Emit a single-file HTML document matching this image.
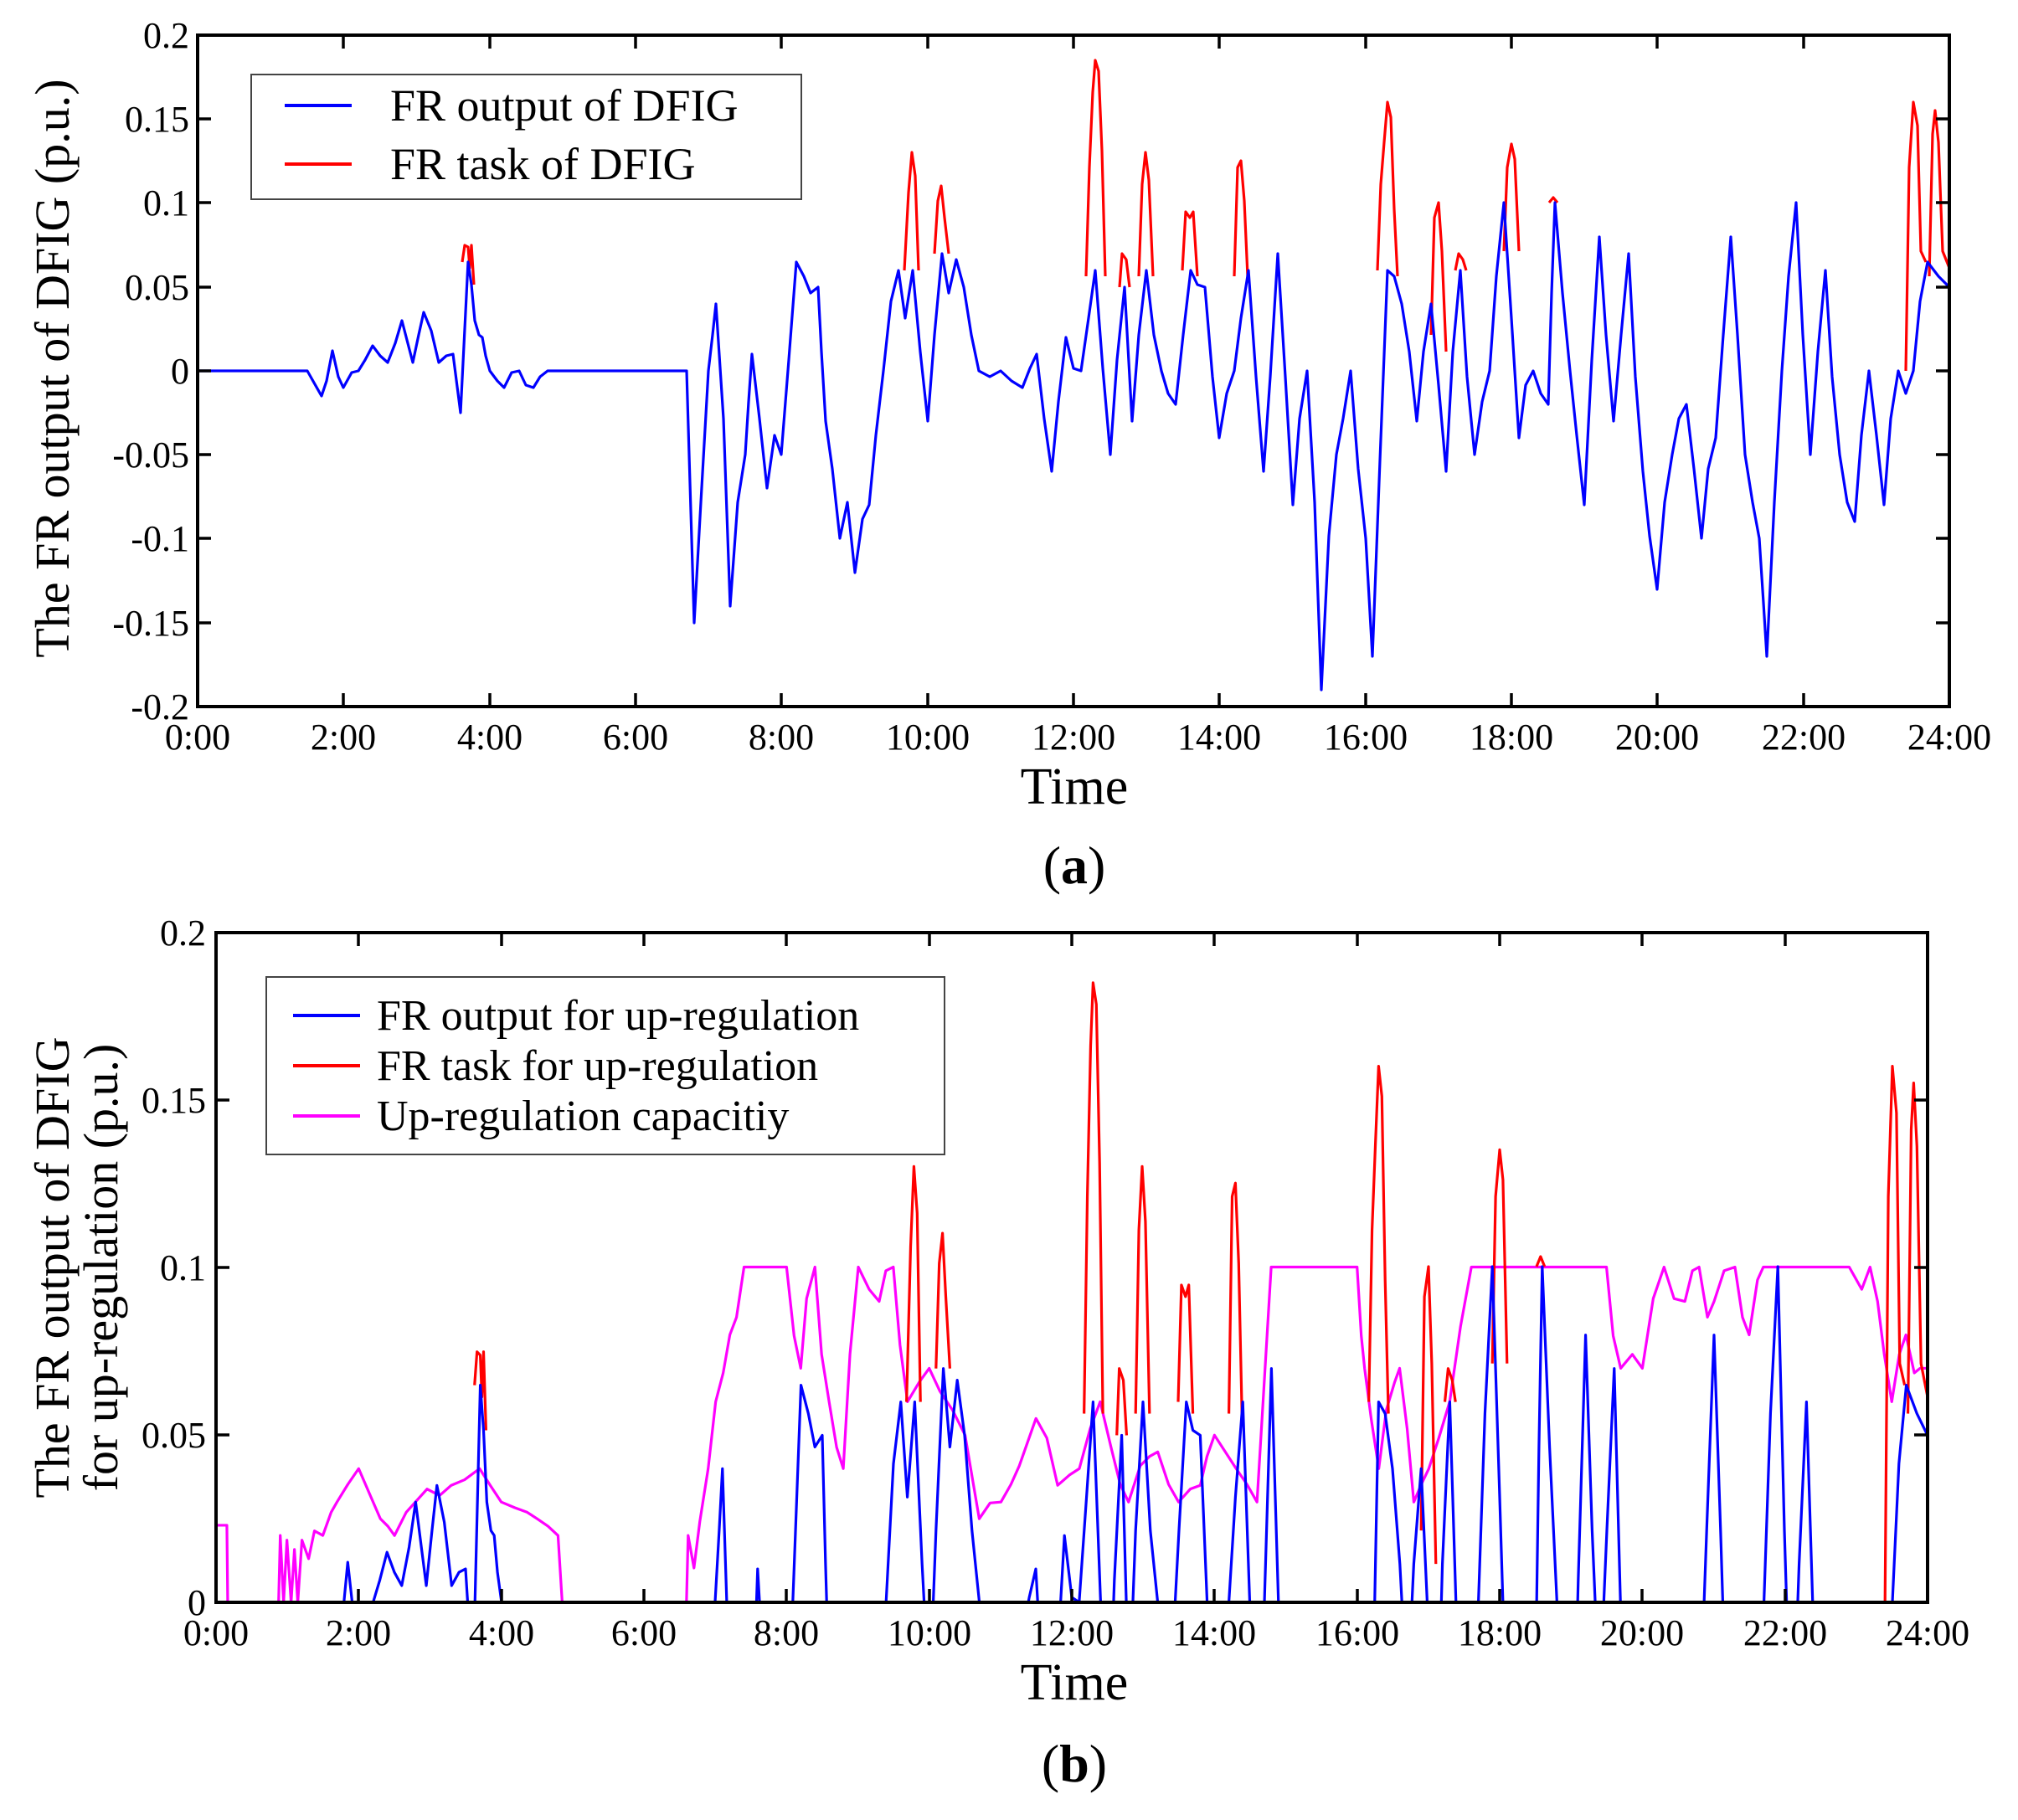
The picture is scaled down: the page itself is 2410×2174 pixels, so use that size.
<!DOCTYPE html>
<html><head><meta charset="utf-8"><style>
html,body{margin:0;padding:0;background:#fff;overflow:hidden}
svg{display:block}
text{font-family:"Liberation Serif",serif;fill:#000}
</style></head><body>
<svg width="2410" height="2174" xmlns="http://www.w3.org/2000/svg" xmlns:xlink="http://www.w3.org/1999/xlink">
<defs>
<clipPath id="cb"><rect x="258" y="1108" width="2044" height="806"/></clipPath>
<g id="red">
<path fill="none" stroke="#ff0000" stroke-width="3.2" stroke-linejoin="round" vector-effect="non-scaling-stroke" d="M552 313 L555 293 L559 295 L561 320 L563 293 L566 340 M1080 323 L1085 230 L1089 182 L1093 210 L1097 323 M1116 303 L1120 240 L1124 222 L1128 260 L1133 303 M1297 330 L1301 200 L1305 110 L1308 72 L1312 85 L1316 180 L1320 330 M1337 343 L1340 303 L1345 310 L1349 343 M1360 330 L1364 220 L1368 182 L1372 215 L1377 330 M1412 323 L1416 253 L1421 260 L1425 253 L1430 330 M1474 330 L1478 200 L1482 192 L1486 240 L1490 330 M1645 323 L1649 220 L1653 170 L1657 122 L1661 140 L1665 250 L1669 330 M1709 400 L1713 260 L1718 242 L1722 300 L1727 420 M1738 323 L1742 303 L1747 310 L1751 323 M1796 300 L1800 200 L1805 172 L1809 190 L1814 300 M1850 242 L1855 236 L1860 242 M2276 443 L2280 200 L2285 122 L2290 150 L2294 300 L2300 313 M2304 330 L2308 160 L2311 132 L2315 170 L2320 300 L2328 320"/>
</g>
<path id="blue" fill="none" stroke="#0000ff" stroke-width="3.2" stroke-linejoin="round" vector-effect="non-scaling-stroke" d="M236 443 L367 443 L384 473 L390 455 L397 419 L404 450 L410 463 L420 445 L428 443 L436 430 L445 413 L454 425 L463 433 L472 410 L480 383 L487 410 L493 433 L500 400 L506 373 L515 395 L524 433 L533 425 L541 423 L550 493 L559 313 L563 340 L567 383 L572 400 L576 403 L580 425 L585 443 L594 455 L602 463 L611 445 L620 443 L628 460 L637 463 L645 450 L654 443 L820 443 L829 744 L837 600 L846 443 L851 400 L855 363 L864 500 L872 724 L881 600 L890 543 L894 480 L898 423 L907 500 L916 583 L925 520 L933 543 L942 430 L951 313 L960 330 L968 350 L977 343 L981 420 L986 503 L994 560 L1003 643 L1012 600 L1021 684 L1030 620 L1038 603 L1046 520 L1055 443 L1064 360 L1073 323 L1081 380 L1090 323 L1099 420 L1108 503 L1116 400 L1125 303 L1133 350 L1142 310 L1151 343 L1160 400 L1169 443 L1182 450 L1195 443 L1208 455 L1221 463 L1230 440 L1238 423 L1247 500 L1256 563 L1264 480 L1273 403 L1282 440 L1291 443 L1300 380 L1308 323 L1317 440 L1326 543 L1334 430 L1343 343 L1352 503 L1360 400 L1369 323 L1378 400 L1387 443 L1395 470 L1404 483 L1413 400 L1422 323 L1430 340 L1439 343 L1448 450 L1456 523 L1465 470 L1474 443 L1482 380 L1491 323 L1500 450 L1509 563 L1517 450 L1526 303 L1535 450 L1544 603 L1552 500 L1561 443 L1570 600 L1578 824 L1587 640 L1596 543 L1604 500 L1613 443 L1622 560 L1631 643 L1639 784 L1648 550 L1657 323 L1665 330 L1674 363 L1683 420 L1692 503 L1700 420 L1709 363 L1718 460 L1727 563 L1735 420 L1744 323 L1752 450 L1761 543 L1770 480 L1779 443 L1787 330 L1796 242 L1805 380 L1814 523 L1822 460 L1831 443 L1840 470 L1849 483 L1853 350 L1857 242 L1866 350 L1875 443 L1883 520 L1892 603 L1901 430 L1910 283 L1918 400 L1927 503 L1936 400 L1945 303 L1953 450 L1962 563 L1970 640 L1979 704 L1988 600 L1997 543 L2005 500 L2014 483 L2023 560 L2032 643 L2040 560 L2049 523 L2058 400 L2067 283 L2075 400 L2084 543 L2093 600 L2101 643 L2106 720 L2110 784 L2119 600 L2128 443 L2136 330 L2145 242 L2153 400 L2162 543 L2171 420 L2180 323 L2188 450 L2197 543 L2206 600 L2215 623 L2223 520 L2232 443 L2241 520 L2250 603 L2258 500 L2267 443 L2276 470 L2285 443 L2293 360 L2302 313 L2315 330 L2328 343"/>
</defs>
<rect width="2410" height="2174" fill="#fff"/>

<!-- TOP PLOT -->
<use xlink:href="#red"/>
<use xlink:href="#blue"/>
<rect x="236" y="42" width="2092" height="802" fill="none" stroke="#000" stroke-width="4"/>
<path stroke="#000" stroke-width="3.5" fill="none" d="M236 744h16M236 643h16M236 543h16M236 443h16M236 343h16M236 242h16M236 142h16M2328 744h-16M2328 643h-16M2328 543h-16M2328 443h-16M2328 343h-16M2328 242h-16M2328 142h-16
M410 844v-16M585 844v-16M759 844v-16M933 844v-16M1108 844v-16M1282 844v-16M1456 844v-16M1631 844v-16M1805 844v-16M1979 844v-16M2154 844v-16
M410 42v16M585 42v16M759 42v16M933 42v16M1108 42v16M1282 42v16M1456 42v16M1631 42v16M1805 42v16M1979 42v16M2154 42v16"/>
<g font-size="44" text-anchor="end">
<text x="226" y="57">0.2</text><text x="226" y="157">0.15</text><text x="226" y="257">0.1</text><text x="226" y="358">0.05</text><text x="226" y="458">0</text><text x="226" y="558">-0.05</text><text x="226" y="658">-0.1</text><text x="226" y="759">-0.15</text><text x="226" y="859">-0.2</text>
</g>
<g font-size="44" text-anchor="middle">
<text x="236" y="895">0:00</text><text x="410" y="895">2:00</text><text x="585" y="895">4:00</text><text x="759" y="895">6:00</text><text x="933" y="895">8:00</text><text x="1108" y="895">10:00</text><text x="1282" y="895">12:00</text><text x="1456" y="895">14:00</text><text x="1631" y="895">16:00</text><text x="1805" y="895">18:00</text><text x="1979" y="895">20:00</text><text x="2154" y="895">22:00</text><text x="2328" y="895">24:00</text>
</g>
<text x="1283" y="960" font-size="62" text-anchor="middle">Time</text>
<text x="1283" y="1055" font-size="64" text-anchor="middle">(<tspan font-weight="bold">a</tspan>)</text>
<text transform="translate(82,440) rotate(-90)" font-size="58" text-anchor="middle">The FR output of DFIG (p.u.)</text>
<rect x="300" y="89" width="657" height="149" fill="#fff" stroke="#444" stroke-width="2"/>
<line x1="340" y1="126" x2="420" y2="126" stroke="#0000ff" stroke-width="4"/>
<line x1="340" y1="196" x2="420" y2="196" stroke="#ff0000" stroke-width="4"/>
<text x="466" y="144" font-size="54">FR output of DFIG</text>
<text x="466" y="214" font-size="54">FR task of DFIG</text>

<!-- BOTTOM PLOT -->
<g transform="matrix(0.99614 0 0 1.1096 6.97 -113.2)">
<path fill="none" stroke="#ff00ff" stroke-width="3.2" stroke-linejoin="round" vector-effect="non-scaling-stroke" d="M252 1744 L265 1744 L266 1827 L327 1827 L329 1755 L333 1827 L337 1760 L342 1827 L346 1770 L350 1827 L355 1760 L363 1780 L370 1750 L380 1755 L390 1730 L397 1719 L410 1700 L423 1683 L436 1710 L449 1737 L458 1745 L466 1755 L480 1730 L491 1719 L505 1705 L520 1712 L534 1701 L550 1695 L568 1683 L580 1700 L594 1719 L610 1725 L625 1730 L637 1737 L650 1745 L662 1755 L667 1827 L816 1827 L818 1755 L825 1790 L832 1740 L842 1683 L851 1611 L860 1580 L868 1539 L876 1520 L885 1466 L936 1466 L945 1540 L953 1575 L960 1500 L970 1466 L978 1560 L987 1611 L996 1660 L1004 1683 L1012 1560 L1022 1466 L1035 1490 L1047 1503 L1055 1470 L1064 1466 L1072 1550 L1081 1611 L1095 1590 L1107 1575 L1120 1600 L1135 1620 L1150 1647 L1160 1700 L1167 1737 L1180 1720 L1193 1719 L1205 1700 L1215 1680 L1235 1629 L1248 1650 L1261 1701 L1275 1690 L1287 1683 L1300 1640 L1312 1611 L1325 1660 L1336 1700 L1346 1719 L1360 1680 L1371 1670 L1381 1665 L1394 1700 L1406 1719 L1420 1705 L1432 1701 L1440 1670 L1449 1647 L1462 1665 L1475 1683 L1488 1700 L1500 1719 L1508 1600 L1517 1466 L1620 1466 L1625 1540 L1629 1575 L1637 1630 L1646 1683 L1655 1620 L1665 1590 L1671 1575 L1680 1640 L1688 1719 L1697 1700 L1706 1683 L1718 1650 L1731 1611 L1744 1530 L1757 1466 L1919 1466 L1927 1540 L1936 1575 L1950 1560 L1962 1575 L1975 1500 L1988 1466 L2000 1500 L2013 1503 L2022 1470 L2030 1466 L2040 1520 L2048 1503 L2060 1470 L2073 1466 L2082 1520 L2090 1539 L2100 1480 L2107 1466 L2210 1466 L2225 1490 L2235 1466 L2244 1503 L2252 1560 L2261 1611 L2270 1560 L2278 1539 L2288 1580 L2295 1575 L2304 1575"/>
</g>
<g clip-path="url(#cb)">
<g transform="matrix(0.97706 0 0 1.995 27.4 1030.2)">
<use xlink:href="#red"/>
<use xlink:href="#blue"/>
</g>
</g>
<rect x="258" y="1114" width="2044" height="800" fill="none" stroke="#000" stroke-width="4"/>
<path stroke="#000" stroke-width="3.5" fill="none" d="M258 1714h16M258 1514h16M258 1314h16M2302 1714h-16M2302 1514h-16M2302 1314h-16
M428 1914v-16M599 1914v-16M769 1914v-16M939 1914v-16M1110 1914v-16M1280 1914v-16M1450 1914v-16M1621 1914v-16M1791 1914v-16M1961 1914v-16M2132 1914v-16
M428 1114v16M599 1114v16M769 1114v16M939 1114v16M1110 1114v16M1280 1114v16M1450 1114v16M1621 1114v16M1791 1114v16M1961 1114v16M2132 1114v16"/>
<g font-size="44" text-anchor="end">
<text x="246" y="1129">0.2</text><text x="246" y="1329">0.15</text><text x="246" y="1529">0.1</text><text x="246" y="1729">0.05</text><text x="246" y="1929">0</text>
</g>
<g font-size="44" text-anchor="middle">
<text x="258" y="1965">0:00</text><text x="428" y="1965">2:00</text><text x="599" y="1965">4:00</text><text x="769" y="1965">6:00</text><text x="939" y="1965">8:00</text><text x="1110" y="1965">10:00</text><text x="1280" y="1965">12:00</text><text x="1450" y="1965">14:00</text><text x="1621" y="1965">16:00</text><text x="1791" y="1965">18:00</text><text x="1961" y="1965">20:00</text><text x="2132" y="1965">22:00</text><text x="2302" y="1965">24:00</text>
</g>
<text x="1283" y="2030" font-size="62" text-anchor="middle">Time</text>
<text x="1283" y="2128" font-size="64" text-anchor="middle">(<tspan font-weight="bold">b</tspan>)</text>
<text transform="translate(82,1514) rotate(-90)" font-size="58" text-anchor="middle">The FR output of DFIG</text>
<text transform="translate(140,1514) rotate(-90)" font-size="58" text-anchor="middle">for up-regulation (p.u.)</text>
<rect x="318" y="1167" width="810" height="212" fill="#fff" stroke="#444" stroke-width="2"/>
<line x1="350" y1="1213" x2="430" y2="1213" stroke="#0000ff" stroke-width="4"/>
<line x1="350" y1="1273" x2="430" y2="1273" stroke="#ff0000" stroke-width="4"/>
<line x1="350" y1="1333" x2="430" y2="1333" stroke="#ff00ff" stroke-width="4"/>
<text x="450" y="1230" font-size="52">FR output for up-regulation</text>
<text x="450" y="1290" font-size="52">FR task for up-regulation</text>
<text x="450" y="1350" font-size="52">Up-regulation capacitiy</text>
</svg>
</body></html>
